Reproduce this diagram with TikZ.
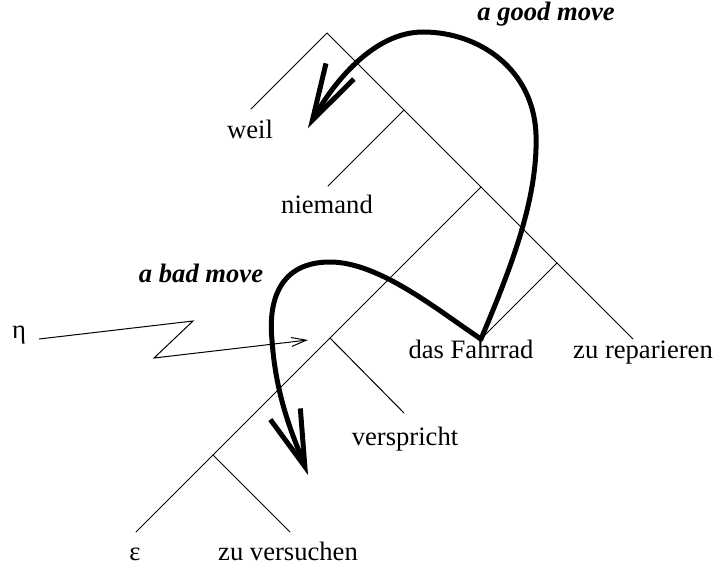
\documentclass[tikz,border=0pt]{standalone}
\usepackage{fontspec}
\setmainfont{Liberation Serif}
\usepackage{tikz}
\usetikzlibrary{arrows.meta}

\begin{document}
\begin{tikzpicture}[x=0.5pt, y=-0.5pt, font=\fontsize{13.3}{16}\selectfont,
  branch/.style={line width=0.5pt, line cap=round},
  move/.style={line width=2.5pt, line cap=round, line join=round,
    -{Straight Barb[length=28pt, width=16pt, line width=2.5pt]}},
  hint/.style={line width=0.5pt, -{Straight Barb[length=7.5pt, width=4.5pt]}},
  word/.style={anchor=base, inner sep=0pt},
  movelabel/.style={anchor=base, inner sep=0pt, font=\fontsize{13.3}{16}\selectfont\bfseries\itshape}]
\useasboundingbox (0,0) rectangle (715,567);

% ---- tree vertices ------------------------------------------------------
\coordinate (root) at (327,33);
\coordinate (weilleaf) at (251,109);
\coordinate (nA) at (404,110);
\coordinate (niemandleaf) at (328,186);
\coordinate (nB) at (481,187);
\coordinate (nD) at (557,263);
\coordinate (fahrradleaf) at (481,339);
\coordinate (repleaf) at (633,339);
\coordinate (nE) at (330,338);
\coordinate (versprichtleaf) at (404,413);
\coordinate (nF) at (213,455);
\coordinate (epsleaf) at (136,532);
\coordinate (versuchenleaf) at (290,532);

% ---- branches -----------------------------------------------------------
\draw[branch] (weilleaf) -- (root) -- (nA) -- (nB) -- (nD) -- (repleaf);
\draw[branch] (nA) -- (niemandleaf);
\draw[branch] (nD) -- (fahrradleaf);
\draw[branch] (nB) -- (nE) -- (nF) -- (epsleaf);
\draw[branch] (nE) -- (versprichtleaf);
\draw[branch] (nF) -- (versuchenleaf);

% ---- words --------------------------------------------------------------
\node[word] (weil) at (250,138) {weil};
\node[word] (niemand) at (327,213) {niemand};
\node[word] (fahrrad) at (471,358) {das Fahrrad};
\node[word] (reparieren) at (643,358) {zu reparieren};
\node[word] (verspricht) at (405,445) {verspricht};
\node[word] (eps) at (135,560) {ε};
\node[word] (versuchen) at (288,560) {zu versuchen};
\node[word] (eta) at (19,338) {η};

% ---- the two moves ------------------------------------------------------
\node[movelabel] (good) at (546,21) {a good move};
\node[movelabel] (bad) at (201,282) {a bad move};
\coordinate (goodtip) at (308,128);
\coordinate (badtip) at (308,475);
\draw[move] (fahrradleaf) .. controls (510,270) and (538,200) .. (536,135)
  .. controls (534,70) and (480,32) .. (423,32)
  .. controls (375,32) and (335,80) .. (goodtip);
\draw[move] (fahrradleaf) .. controls (440,312) and (380,262) .. (330,262)
  .. controls (280,262) and (268,300) .. (272,340)
  .. controls (276,400) and (295,440) .. (badtip);

% ---- eta zigzag ---------------------------------------------------------
\coordinate (etastart) at (39,339);
\coordinate (etatip) at (308,340);
\draw[hint] (etastart) -- (193,321) -- (154,358) -- (etatip);
\end{tikzpicture}
\end{document}
